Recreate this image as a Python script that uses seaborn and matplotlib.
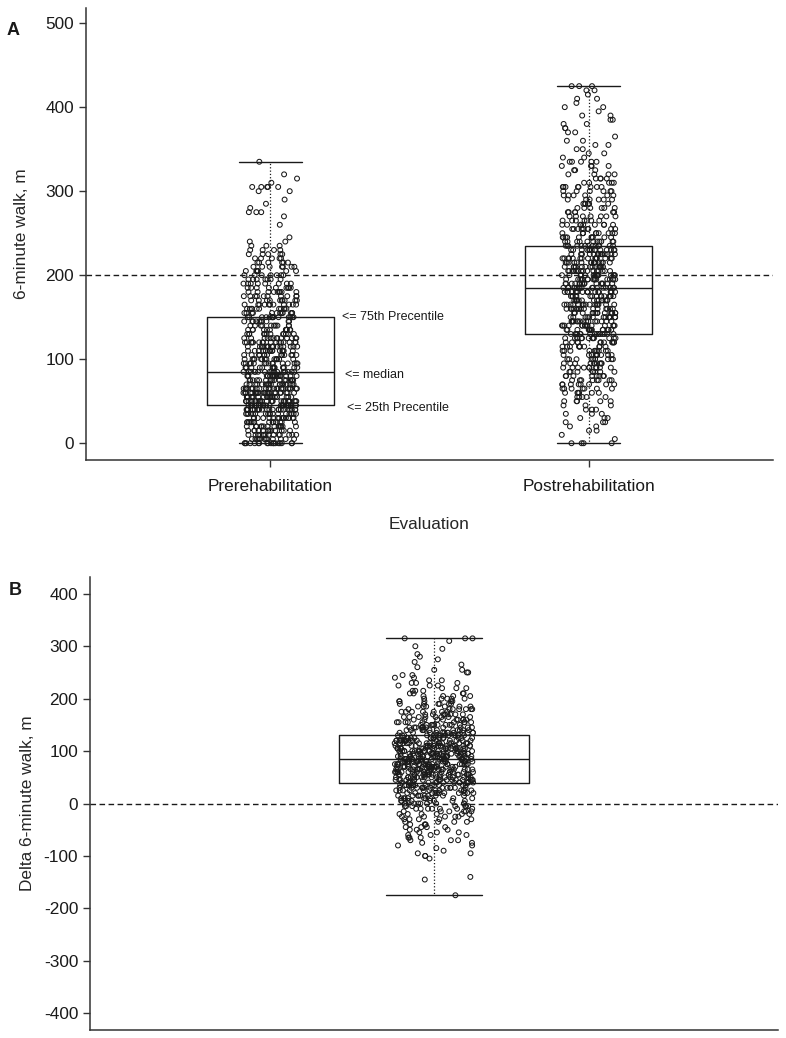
import numpy as np
import pandas as pd
import matplotlib
matplotlib.use("Agg")
import matplotlib.pyplot as plt
import seaborn as sns

sns.set_style("ticks")
plt.rcParams['font.family'] = ['Liberation Sans', 'DejaVu Sans']
plt.rcParams['axes.unicode_minus'] = False

# ---- data (counts of patients per 5 m level) ----
groups = ["Prerehabilitation", "Postrehabilitation"]

pre_levels = np.arange(0, 340, 5)          # 0 .. 335 m
pre_counts = [18, 12, 14, 14, 15, 14, 16, 17, 22, 26,
              25, 22, 23, 22, 18, 17, 18, 17,
              16, 15, 14, 14, 15, 15, 16, 13, 12, 11, 10, 10,
              14, 12, 11, 11, 10, 10, 9, 9, 8, 7, 7, 7, 7, 6, 5, 5, 4, 3, 2, 1,
              0, 0, 1, 0, 1, 3, 1, 1, 1, 0, 2, 5, 1, 1, 1, 0, 0, 1]

post_levels = np.arange(0, 430, 5)         # 0 .. 425 m
post_counts = [4, 1, 1, 2, 2, 3, 3, 3, 3, 3,
               5, 5, 6, 7, 8, 8, 8, 8, 10, 10, 9, 9, 10, 10, 11, 13,
               15, 15, 15, 15, 15, 15, 15, 15, 15, 15,
               18, 17, 17, 16, 16, 16, 16, 15, 15, 14, 14, 13,
               11, 10, 10, 9, 9, 7, 7, 6, 6, 6,
               6, 6, 6, 8, 5, 4, 4, 3, 4, 5,
               2, 2, 2, 2, 2, 1, 2, 2, 2, 2,
               2, 1, 2, 1, 2, 1, 2, 3]

delta_levels = np.arange(-175, 320, 5)     # -175 .. 315 m
delta_counts = [1, 0, 0, 0, 0, 0, 1, 1, 0, 0, 0, 0, 0, 0, 1, 2, 2, 1, 1, 2,
                2, 3, 3, 3, 3, 3, 4, 4, 4, 5, 5, 6, 6, 7, 7,
                8, 9, 9, 10, 11, 12, 13, 14,
                15, 16, 17, 18, 18, 19, 19, 20, 20, 20,
                20, 20, 19, 19, 18, 17, 16, 15, 14,
                13, 12, 11, 10, 9, 9, 8, 8, 7, 7,
                6, 6, 5, 5, 4, 4, 3, 3, 3, 3,
                2, 2, 2, 2, 2, 1, 1, 1, 1, 1,
                1, 0, 1, 1, 0, 1, 3]

pre = np.repeat(pre_levels, pre_counts)
post = np.repeat(post_levels, post_counts)
delta = np.repeat(delta_levels, delta_counts)

dfA = pd.DataFrame({
    "Evaluation": [groups[0]] * len(pre) + [groups[1]] * len(post),
    "walk": np.concatenate([pre, post]),
})

np.random.seed(3)
ink = "#1a1a1a"
fs = 12.4

fig = plt.figure(figsize=(7.86, 10.38), dpi=100)
axA = fig.add_axes([0.1094, 0.5568, 0.8741, 0.4355])
axB = fig.add_axes([0.1145, 0.0077, 0.8753, 0.4364])

box_kw = dict(whis=(0, 100), showfliers=False, fill=False, color=ink, linewidth=1.0,
              whiskerprops=dict(linestyle=":", color=ink, linewidth=0.9))
pt_kw = dict(size=3.5, facecolors="none", edgecolor=ink, linewidth=0.75)

# ---- panel A ----
sns.boxplot(data=dfA, x="Evaluation", y="walk", order=groups, width=0.4, ax=axA, **box_kw)
sns.stripplot(data=dfA, x="Evaluation", y="walk", order=groups, jitter=0.085, ax=axA, **pt_kw)
axA.axhline(200, color=ink, linestyle=(0, (4, 2.5)), linewidth=1.0, zorder=1)
axA.set_xlim(-0.58, 1.58)
axA.set_ylim(-20, 518)
axA.set_yticks([0, 100, 200, 300, 400, 500])
axA.set_ylabel("6-minute walk, m", fontsize=fs, labelpad=12)
axA.set_xlabel("Evaluation", fontsize=fs, labelpad=16)
q1, med, q3 = np.percentile(pre, [25, 50, 75])
axA.text(0.225, q3, "<= 75th Precentile", fontsize=9, va="center", ha="left", color=ink)
axA.text(0.235, med - 4, "<= median", fontsize=9, va="center", ha="left", color=ink)
axA.text(0.24, q1 - 3, "<= 25th Precentile", fontsize=9, va="center", ha="left", color=ink)

# ---- panel B ----
sns.boxplot(y=delta, width=0.555, ax=axB, **box_kw)
sns.stripplot(y=delta, jitter=0.115, ax=axB, **pt_kw)
axB.axhline(0, color=ink, linestyle=(0, (4, 2.5)), linewidth=1.0, zorder=1)
axB.set_xlim(-1, 1)
axB.set_ylim(-432, 432)
axB.set_yticks(range(-400, 401, 100))
axB.set_xticks([])
axB.set_ylabel("Delta 6-minute walk, m", fontsize=fs, labelpad=6)
axB.set_xlabel("")

for ax in (axA, axB):
    sns.despine(ax=ax)
    for s in ("left", "bottom"):
        ax.spines[s].set_color("#333333")
        ax.spines[s].set_linewidth(1.1)
    ax.tick_params(axis="both", labelsize=fs, colors="#333333", labelcolor=ink,
                   length=5, width=1.0)
    ax.tick_params(axis="x", pad=9)

fig.text(0.016, 0.971, "A", fontsize=13, fontweight="bold", ha="center", va="center", color=ink)
fig.text(0.020, 0.431, "B", fontsize=13, fontweight="bold", ha="center", va="center", color=ink)

fig.savefig("out.png", dpi=100)
